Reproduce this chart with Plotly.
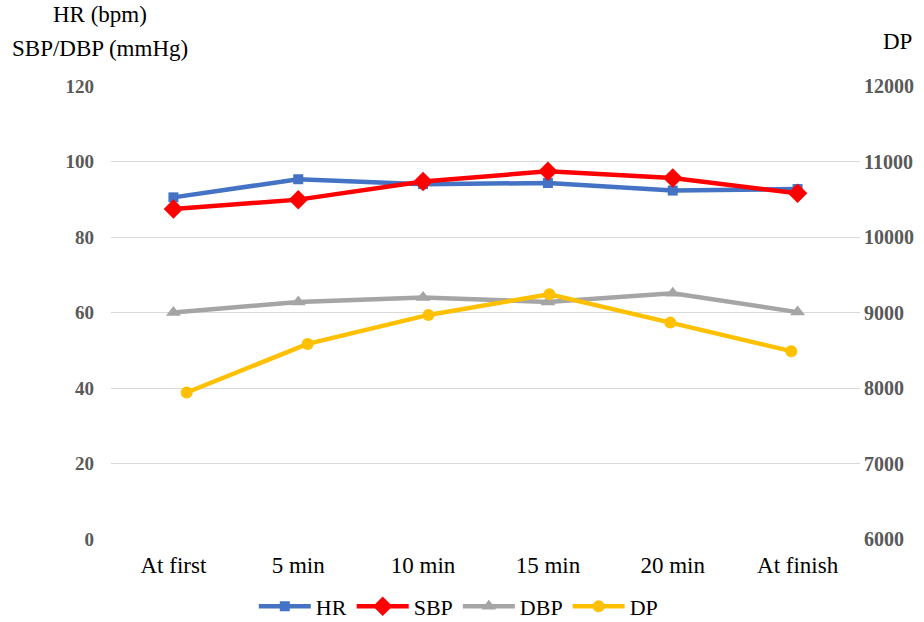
import plotly.graph_objects as go

# Measurement stages
stages = ["At first", "5 min", "10 min", "15 min", "20 min", "At finish"]

# Heart rate (bpm)
hr = [90.5, 95.3, 94.0, 94.3, 92.3, 92.7]
# Systolic blood pressure (mmHg)
sbp = [87.4, 89.9, 94.7, 97.4, 95.6, 91.6]
# Diastolic blood pressure (mmHg)
dbp = [60.0, 62.8, 64.0, 62.8, 65.1, 60.1]
# Double product (HR x SBP), right axis
dp = [7940, 8584, 8968, 9242, 8866, 8488]

left_ticks = [0, 20, 40, 60, 80, 100, 120]
right_ticks = [6000, 7000, 8000, 9000, 10000, 11000, 12000]

serif = "Liberation Serif"
tick_gray = "#595959"

fig = go.Figure()

fig.add_trace(go.Scatter(
    x=stages, y=hr, name="HR", mode="lines+markers",
    line=dict(color="#4472C4", width=4.5),
    marker=dict(symbol="square", size=10, color="#4472C4"),
))
fig.add_trace(go.Scatter(
    x=stages, y=sbp, name="SBP", mode="lines+markers",
    line=dict(color="#FF0000", width=4.5),
    marker=dict(symbol="diamond", size=15, color="#FF0000"),
))
fig.add_trace(go.Scatter(
    x=stages, y=dbp, name="DBP", mode="lines+markers",
    line=dict(color="#A5A5A5", width=4.5),
    marker=dict(symbol="triangle-up", size=13, color="#A5A5A5"),
))
fig.add_trace(go.Scatter(
    x=stages, y=dp, name="DP", mode="lines+markers",
    xaxis="x2", yaxis="y2",
    line=dict(color="#FFC000", width=4.5),
    marker=dict(symbol="circle", size=12, color="#FFC000"),
))

title_font = dict(family=serif, size=23, color="black")

fig.update_layout(
    width=924, height=622,
    margin=dict(l=111, r=64, t=86, b=83),
    paper_bgcolor="white", plot_bgcolor="white",
    font=dict(family=serif, color="black"),
    showlegend=True,
    legend=dict(
        orientation="h", xref="container", yref="container",
        x=0.496, xanchor="center", y=0.025, yanchor="middle",
        font=dict(family=serif, size=22, color="black"),
        itemwidth=52, tracegroupgap=0, itemsizing="trace",
    ),
    xaxis=dict(
        type="category", range=[-0.5, 5.5], automargin=False,
        showgrid=False, showline=False, zeroline=False, ticks="",
        tickfont=dict(family=serif, size=23, color="black"),
        ticklabelstandoff=10,
    ),
    xaxis2=dict(
        type="category", overlaying="x", range=[-0.626, 5.569],
        visible=False,
    ),
    yaxis=dict(
        range=[0, 120], tickvals=left_ticks, automargin=False,
        showgrid=True, gridcolor="#D9D9D9", gridwidth=1.3,
        zeroline=False, showline=False, ticks="",
        tickfont=dict(family=serif, size=19, color=tick_gray, weight="bold"),
        ticklabelstandoff=16,
    ),
    yaxis2=dict(
        range=[6000, 12000], tickvals=right_ticks, tickformat="d",
        overlaying="y", side="right", anchor="x", automargin=False,
        showgrid=False, zeroline=False, showline=False, ticks="",
        tickfont=dict(family=serif, size=20, color=tick_gray, weight="bold"),
        ticklabelstandoff=3,
    ),
    annotations=[
        dict(text="HR (bpm)", xref="paper", yref="paper",
             x=-0.015, y=1.0, xanchor="center", yanchor="middle",
             yshift=72, showarrow=False, font=title_font),
        dict(text="SBP/DBP (mmHg)", xref="paper", yref="paper",
             x=-0.015, y=1.0, xanchor="center", yanchor="middle",
             yshift=38, showarrow=False, font=title_font),
        dict(text="DP", xref="paper", yref="paper",
             x=1.05, y=1.0, xanchor="center", yanchor="middle",
             yshift=45, showarrow=False, font=title_font),
    ],
)

fig.write_html("out.html")
